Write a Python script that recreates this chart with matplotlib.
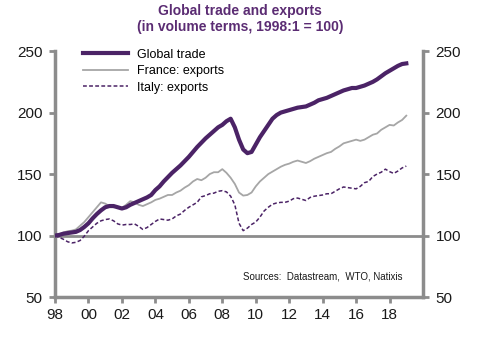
import numpy as np
import matplotlib
matplotlib.use('Agg')
import matplotlib.pyplot as plt

plt.rcParams['font.family'] = ['Liberation Sans', 'DejaVu Sans']

### quarterly data, 1998Q1 .. 2019Q1
start_year = 1998
global_trade = [100, 100.5, 101.5, 102,
                102.5, 103, 104.5, 107,
                110, 114, 117.5, 120.5,
                123, 124, 124, 123,
                122, 123, 125, 126.5,
                128, 129.5, 131, 133,
                137, 140, 144, 147.5,
                151, 154, 157, 160.5,
                164, 168, 172, 175.5,
                179, 182, 185, 188,
                190, 193, 195, 188,
                178, 170, 167, 168,
                174, 180, 185, 190,
                195, 198, 200, 201,
                202, 203, 204, 204.5,
                205, 206.5, 208, 210,
                211, 212, 213.5, 215,
                216.5, 218, 219, 220,
                220, 221, 222, 223.5,
                225, 227, 229.5, 232,
                234, 236, 238, 239.5,
                240]
france_exports = [100, 101, 102.5, 103.5,
                  104, 105, 108, 111,
                  115, 119, 123, 127,
                  126, 124, 123, 123.5,
                  122.5, 125, 128, 127,
                  125, 124, 125.5, 127,
                  129, 130, 131.5, 133,
                  133, 135, 136.5, 139,
                  141, 144, 146, 145,
                  147, 150, 151.5, 151.5,
                  154, 151, 147, 142,
                  135, 132.5, 133, 135,
                  140, 144, 147, 150,
                  152, 154, 156, 157.5,
                  158.5, 160, 161, 160,
                  159, 160.5, 162.5, 164,
                  165.5, 167, 168, 170.5,
                  172.5, 175, 176, 177,
                  178, 177, 178, 180,
                  182, 183, 186, 188,
                  190, 189.5, 192, 194,
                  197.5]
italy_exports = [100, 98.5, 97, 95,
                 94, 94.5, 96, 99.5,
                 104, 107, 110, 112,
                 113, 113.5, 112, 109.5,
                 108.5, 109, 109, 109.5,
                 107.5, 105, 106.5, 109,
                 111.5, 113.5, 113, 112.5,
                 113.5, 116, 117.5, 120.5,
                 123, 125, 127, 131.5,
                 132.5, 134, 134.5, 136,
                 136.5, 135.5, 132, 125,
                 110, 104, 106, 109,
                 111, 115, 120, 123,
                 125.5, 126.5, 127, 127,
                 128, 130, 130.5, 129.5,
                 128.5, 131, 132, 132.5,
                 133, 134, 134, 136,
                 138, 139.5, 139, 138.5,
                 138, 140, 143, 144,
                 148, 150, 151.5, 154,
                 152, 150.5, 152.5, 155,
                 156.5]
tick_years = list(range(1998, 2019, 2))
tick_labels = ['98', '00', '02', '04', '06', '08', '10', '12', '14', '16', '18']

t = start_year + np.arange(len(global_trade)) * 0.25

purple = '#4b2366'
grey = '#a6a6a6'
axis_grey = '#8c8c8c'

fig = plt.figure(figsize=(4.8, 3.43), dpi=100)
ax = fig.add_axes([0.1146, 0.134, 0.7667, 0.717])

ax.axhline(100, color=axis_grey, lw=2, zorder=1)
ax.plot(t, global_trade, color=purple, lw=3, label='Global trade', zorder=4)
ax.plot(t, france_exports, color=grey, lw=1.3, label='France: exports', zorder=3)
ax.plot(t, italy_exports, color=purple, lw=1.1, ls=(0, (2.5, 1.5)),
        label='Italy: exports', zorder=3)

ax.set_xlim(1998, 2020)
ax.set_ylim(50, 250)
ax.set_yticks([50, 100, 150, 200, 250])
ax.set_xticks(tick_years)
ax.set_xticklabels(tick_labels)

for side in ['left', 'right', 'bottom']:
    ax.spines[side].set_color(axis_grey)
    ax.spines[side].set_linewidth(2.5)
ax.spines['top'].set_visible(False)

ax.tick_params(axis='both', colors=axis_grey, labelcolor='#1a1a1a',
               labelsize=11, length=4, width=2, direction='out')
ax.tick_params(axis='y', right=True, labelright=True, pad=5)
ax.tick_params(axis='x', pad=4)

ax.legend(loc='upper left', bbox_to_anchor=(0.045, 1.055), frameon=False,
          fontsize=9, handlelength=3.6, handletextpad=0.7, labelspacing=0.35)

ax.text(0.943, 0.085, 'Sources:  Datastream,  WTO, Natixis', transform=ax.transAxes,
        ha='right', va='center', fontsize=7, color='#1a1a1a')

fig.text(0.5, 0.945, 'Global trade and exports\n(in volume terms, 1998:1 = 100)',
         ha='center', va='center', fontsize=10, fontweight='bold',
         color='#5b2c73', linespacing=1.2)

fig.savefig('out.png', dpi=100)
